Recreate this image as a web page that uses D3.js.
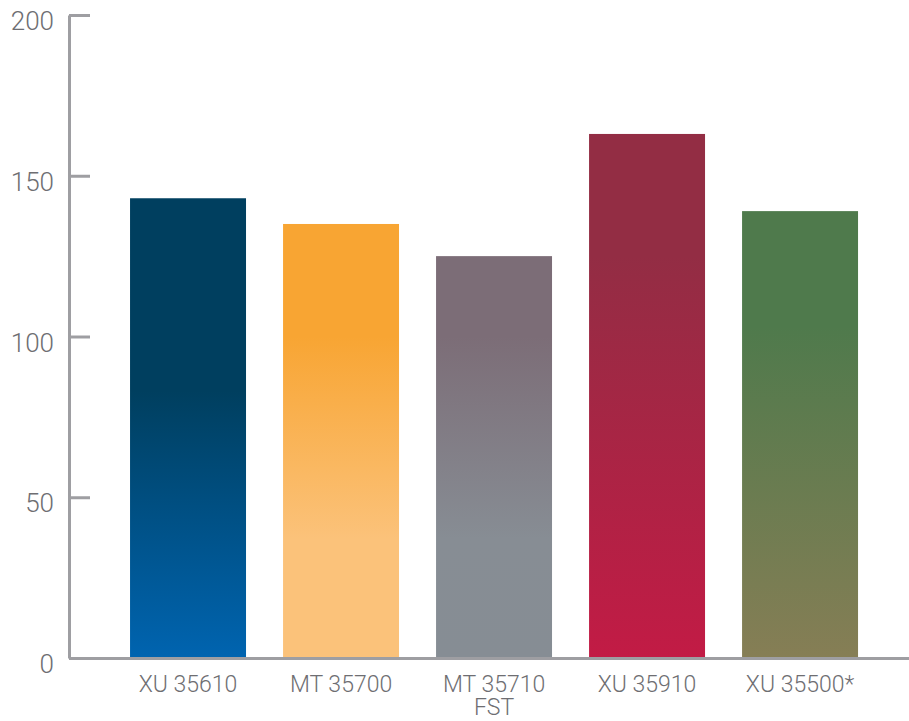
<!DOCTYPE html>
<html>
<head>
<meta charset="utf-8">
<script src="https://cdn.jsdelivr.net/npm/d3@7"></script>
<style>
  body { margin: 0; background: #fff; }
  text { font-family: Roboto, "Liberation Sans", Arial, sans-serif; font-weight: 300; fill: #6e6e72; }
</style>
</head>
<body>
<svg id="chart"></svg>
<script>
const categories = ["XU 35610", "MT 35700", "MT 35710\nFST", "XU 35910", "XU 35500*"];
const values = [143, 135, 125, 163, 139];
const yTicks = [0, 50, 100, 150, 200];

// gradient stops per bar: [value where stop sits, colour]
const gradients = [
  [[83, "#003f5f"], [0, "#0064b0"]],
  [[100, "#f8a533"], [37, "#fbc27a"], [0, "#fbc27a"]],
  [[100, "#7c6d77"], [37, "#878d94"], [0, "#868d94"]],
  [[125, "#932d44"], [0, "#c21b45"]],
  [[103, "#4f7a4c"], [0, "#867e55"]]
];

const width = 909, height = 721;
const font = "Roboto, Liberation Sans, Arial, sans-serif";
const svg = d3.select("#chart").attr("width", width).attr("height", height);

const x = d3.scaleBand()
  .domain(categories)
  .range([69, 909])
  .paddingInner(0.242)
  .paddingOuter(0.366)
  .align(0.545);

const y = d3.scaleLinear().domain([0, 200]).range([658, 15]);

const defs = svg.append("defs");
gradients.forEach((stops, i) => {
  const g = defs.append("linearGradient")
    .attr("id", "grad" + i)
    .attr("gradientUnits", "userSpaceOnUse")
    .attr("x1", 0).attr("x2", 0)
    .attr("y1", y(stops[0][0]))
    .attr("y2", y(0));
  stops.forEach(s => {
    g.append("stop")
      .attr("offset", (y(s[0]) - y(stops[0][0])) / (y(0) - y(stops[0][0])))
      .attr("stop-color", s[1]);
  });
});

svg.append("g")
  .selectAll("rect")
  .data(values)
  .enter()
  .append("rect")
  .attr("x", (d, i) => x(categories[i]))
  .attr("y", d => y(d))
  .attr("width", x.bandwidth())
  .attr("height", d => y(0) - y(d))
  .attr("fill", (d, i) => `url(#grad${i})`);

// y axis, ticks pointing inward
const yAxis = svg.append("g")
  .attr("transform", "translate(69,0)")
  .call(d3.axisLeft(y).tickValues(yTicks).tickSizeInner(-21).tickSizeOuter(0).tickPadding(15));
yAxis.select(".domain").attr("stroke", "#9e9ea2").attr("stroke-width", 3);
yAxis.selectAll(".tick line").attr("stroke", "#9e9ea2").attr("stroke-width", 3);
yAxis.selectAll(".tick text")
  .attr("font-size", 26)
  .attr("font-family", font)
  .attr("font-weight", 300)
  .attr("fill", "#6e6e72")
  .attr("dy", "0.56em");

// x axis
const xAxis = svg.append("g")
  .attr("transform", "translate(0,658)")
  .call(d3.axisBottom(x).tickSize(0).tickPadding(0));
xAxis.select(".domain").attr("stroke", "#9e9ea2").attr("stroke-width", 3);
xAxis.selectAll(".tick text")
  .attr("font-size", 23)
  .attr("font-family", font)
  .attr("font-weight", 300)
  .attr("fill", "#6e6e72")
  .attr("y", 34)
  .attr("dy", 0)
  .each(function (d) {
    const t = d3.select(this);
    const lines = d.split("\n");
    t.text(null);
    lines.forEach((line, k) => {
      t.append("tspan").attr("x", 0).attr("dy", k === 0 ? 0 : 23).text(line);
    });
  });
</script>
</body>
</html>
